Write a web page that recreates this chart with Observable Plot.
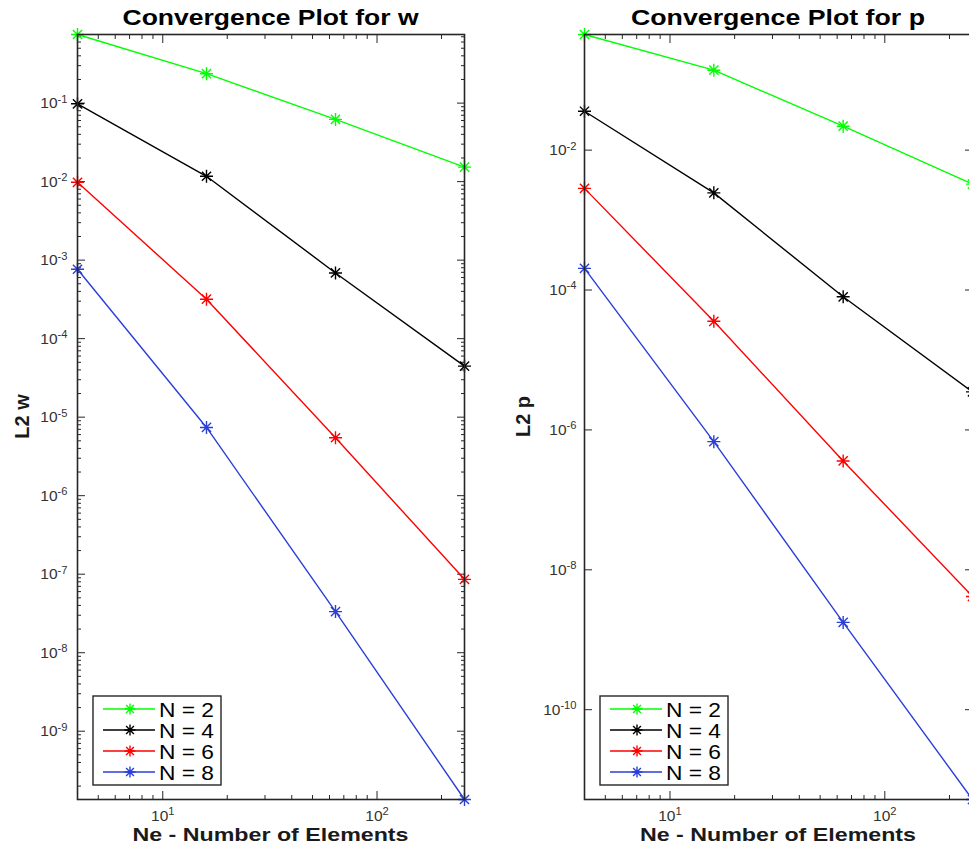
<!DOCTYPE html>
<html><head><meta charset="utf-8">
<script src="https://cdn.jsdelivr.net/npm/d3@7"></script>
<script src="https://cdn.jsdelivr.net/npm/@observablehq/plot@0.6"></script>
<style>
html,body{margin:0;padding:0;background:#fff;}
#wrap{position:relative;width:969px;height:850px;overflow:hidden;background:#fff;}
#wrap svg{position:absolute;top:0;}
</style></head><body><div id="wrap"></div>
<script>
// ---- data ----
const Ne = [4, 16, 64, 256];
const seriesNames = ["N = 2", "N = 4", "N = 6", "N = 8"];
const seriesColors = ["#00ff00", "#000000", "#ff0000", "#2a3fd8"];

const L2w_N2 = [0.748, 0.237, 0.062, 0.0153];
const L2w_N4 = [0.098, 0.0117, 6.87e-4, 4.47e-5];
const L2w_N6 = [0.0098, 3.18e-4, 5.47e-6, 8.6e-8];
const L2w_N8 = [7.66e-4, 7.4e-6, 3.34e-8, 1.35e-10];

const L2p_N2 = [0.45, 0.139, 0.022, 0.00327];
const L2p_N4 = [0.036, 0.00245, 8.0e-5, 3.5e-6];
const L2p_N6 = [0.00284, 3.57e-5, 3.6e-7, 4.16e-9];
const L2p_N8 = [2.04e-4, 6.8e-7, 1.77e-9, 5.2e-12];

const xMajorTicks = [10, 100];
const wMajorTicks = [1e-1, 1e-2, 1e-3, 1e-4, 1e-5, 1e-6, 1e-7, 1e-8, 1e-9];
const pMajorTicks = [1e-2, 1e-4, 1e-6, 1e-8, 1e-10];

const titles = ["Convergence Plot for w", "Convergence Plot for p"];
const yLabels = ["L2 w", "L2 p"];
const xLabel = "Ne - Number of Elements";

// ---- helpers ----
const FONT = "'Liberation Sans', Helvetica, Arial, sans-serif";
const AX = "#262626";

const star8 = {
  draw(context, size) {
    const r = Math.sqrt(size / Math.PI);
    const d = r * Math.SQRT1_2;
    context.moveTo(-r, 0); context.lineTo(r, 0);
    context.moveTo(0, -r); context.lineTo(0, r);
    context.moveTo(-d, -d); context.lineTo(d, d);
    context.moveTo(-d, d); context.lineTo(d, -d);
  }
};

function logMinor(lo, hi) {
  const out = [];
  for (let k = Math.floor(Math.log10(lo)); k <= Math.ceil(Math.log10(hi)); k++)
    for (let m = 2; m <= 9; m++) { const v = m * Math.pow(10, k); if (v >= lo * 0.999 && v <= hi * 1.001) out.push(v); }
  return out;
}

const supFmt = d => "10^" + Math.round(Math.log10(d));

function tidy(arrays) {
  return arrays.flatMap((vals, i) => vals.map((v, j) => ({Ne: Ne[j], L2: v, N: seriesNames[i]})));
}

function panel(cfg) {
  const data = tidy(cfg.series);
  const yDomain = d3.extent(data, d => d.L2);
  const xDomain = [Ne[0], Ne[Ne.length - 1]];
  const xMinor = logMinor(xDomain[0], xDomain[1]).filter(v => !xMajorTicks.includes(v));
  const yMinor = cfg.yMinor ? logMinor(yDomain[0], yDomain[1]).filter(v => !cfg.yMajor.some(t => Math.abs(t - v) / v < 1e-6)) : [];
  const {W, H, mL, mR, mT, mB} = cfg;

  const tickMarks = [];
  for (const a of ["bottom", "top"]) {
    tickMarks.push(Plot.axisX({ticks: xMajorTicks, anchor: a, tickSize: -8, fill: "none", stroke: AX, label: null}));
    tickMarks.push(Plot.axisX({ticks: xMinor, anchor: a, tickSize: -4, fill: "none", stroke: AX, label: null}));
  }
  for (const a of ["left", "right"]) {
    tickMarks.push(Plot.axisY({ticks: cfg.yMajor, anchor: a, tickSize: -8, fill: "none", stroke: AX, label: null}));
    if (yMinor.length) tickMarks.push(Plot.axisY({ticks: yMinor, anchor: a, tickSize: -4, fill: "none", stroke: AX, label: null}));
  }

  const svg = Plot.plot({
    width: W, height: H, marginLeft: mL, marginRight: mR, marginTop: mT, marginBottom: mB,
    style: {fontFamily: FONT, background: "transparent", overflow: "visible"},
    x: {type: "log", domain: xDomain},
    y: {type: "log", domain: yDomain},
    color: {domain: seriesNames, range: seriesColors},
    marks: [
      ...tickMarks,
      Plot.axisX({ticks: xMajorTicks, anchor: "bottom", tickSize: 0, tickPadding: 10, tickFormat: supFmt, fontSize: 15.5, fill: "#333", label: null}),
      Plot.axisY({ticks: cfg.yMajor, anchor: "left", tickSize: 0, tickPadding: cfg.yPad, tickFormat: supFmt, fontSize: 15.5, fill: "#333", label: null}),
      Plot.line(data, {x: "Ne", y: "L2", z: "N", stroke: "N", strokeWidth: 1.4}),
      Plot.dot(data, {x: "Ne", y: "L2", stroke: "N", fill: "none", symbol: star8, r: 6.5, strokeWidth: 1.4}),
      Plot.frame({stroke: AX, strokeWidth: 1.6})
    ]
  });
  svg.style.left = cfg.left + "px";
  const s = d3.select(svg);

  // superscript exponent in tick labels
  s.selectAll("text").each(function () {
    const m = (this.textContent || "").match(/^10\^(-?\d+)$/);
    if (m) {
      const t = d3.select(this);
      t.text("10");
      t.append("tspan").attr("dy", "-0.5em").attr("font-size", "0.72em").text(m[1]);
    }
  });

  const fl = mL, fr = W - mR, ft = mT, fb = H - mB;
  const cx = (fl + fr) / 2;
  const g = s.append("g").attr("font-family", FONT).attr("text-anchor", "start");
  g.append("text").attr("x", cx).attr("y", 25).attr("text-anchor", "middle")
    .attr("font-weight", "bold").attr("font-size", 21.5).attr("fill", "#000")
    .attr("textLength", cfg.titleLen).attr("lengthAdjust", "spacingAndGlyphs").text(cfg.title);
  g.append("text").attr("x", cx).attr("y", 841).attr("text-anchor", "middle")
    .attr("font-weight", "bold").attr("font-size", 19).attr("fill", "#1a1a1a")
    .attr("textLength", 276).attr("lengthAdjust", "spacingAndGlyphs").text(xLabel);
  g.append("text").attr("transform", `translate(${cfg.yLabelX},${(ft + fb) / 2}) rotate(-90)`)
    .attr("text-anchor", "middle").attr("font-weight", "bold").attr("font-size", 20)
    .attr("fill", "#1a1a1a").text(cfg.yLabel);

  // legend (south-west, inside axes)
  const lx = fl + 16, ly = fb - 14 - 89, lw = 128, lh = 89;
  const lg = g.append("g");
  lg.append("rect").attr("x", lx).attr("y", ly).attr("width", lw).attr("height", lh)
    .attr("fill", "#fff").attr("stroke", AX).attr("stroke-width", 1.4);
  seriesNames.forEach((name, i) => {
    const yy = ly + 13 + i * 21;
    const col = seriesColors[i];
    lg.append("line").attr("x1", lx + 10).attr("x2", lx + 62).attr("y1", yy).attr("y2", yy)
      .attr("stroke", col).attr("stroke-width", 1.4);
    const p = d3.path(); star8.draw(p, Math.PI * 5.5 * 5.5);
    lg.append("path").attr("d", p.toString()).attr("transform", `translate(${lx + 37},${yy})`)
      .attr("stroke", col).attr("stroke-width", 1.4).attr("fill", "none");
    lg.append("text").attr("x", lx + 66).attr("y", yy).attr("dy", "0.36em")
      .attr("text-anchor", "start").attr("font-size", 21).attr("fill", "#000")
      .attr("textLength", 55).attr("lengthAdjust", "spacingAndGlyphs").text(name);
  });
  return svg;
}

const wrap = document.getElementById("wrap");
wrap.appendChild(panel({
  left: 0, W: 480, H: 850, mL: 77, mR: 16, mT: 34, mB: 51,
  series: [L2w_N2, L2w_N4, L2w_N6, L2w_N8], yMajor: wMajorTicks, yMinor: true,
  yPad: 10, yLabelX: 29, title: titles[0], titleLen: 296, yLabel: yLabels[0]
}));
wrap.appendChild(panel({
  left: 480, W: 502, H: 850, mL: 104, mR: 10, mT: 34, mB: 51,
  series: [L2p_N2, L2p_N4, L2p_N6, L2p_N8], yMajor: pMajorTicks, yMinor: false,
  yPad: 8, yLabelX: 50, title: titles[1], titleLen: 294, yLabel: yLabels[1]
}));
</script></body></html>
